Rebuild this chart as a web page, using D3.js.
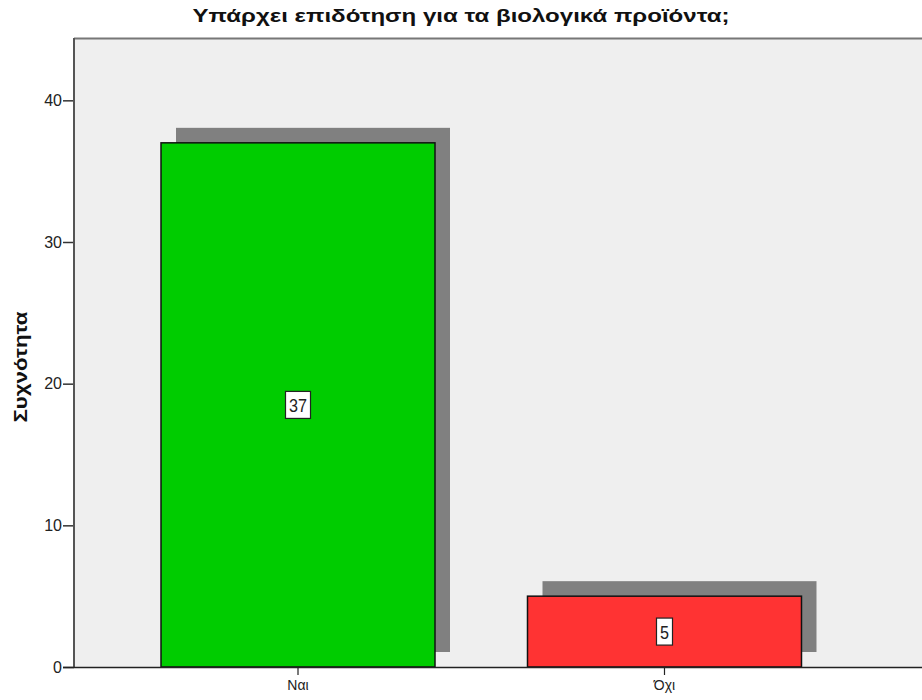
<!DOCTYPE html>
<html><head><meta charset="utf-8">
<script src="https://cdn.jsdelivr.net/npm/d3@7"></script>
<style>body{margin:0;background:#fff;} svg{display:block;font-family:"Liberation Sans",Arial,sans-serif;}</style>
</head><body>
<svg id="c" width="922" height="700"></svg>
<script>
const categories = ["Ναι", "Όχι"];
const values = [37, 5];
const colors = ["#00cc00", "#ff3333"];
const yTicks = [0, 10, 20, 30, 40];
const title = "Υπάρχει επιδότηση για τα βιολογικά προϊόντα;";
const yLabel = "Συχνότητα";

const svg = d3.select("#c");
const L = 74, T = 38, B = 667, R = 922;
const y = d3.scaleLinear().domain([0, 44.4]).range([B, T]);
const x = d3.scaleBand().domain(categories).range([L, 888.5]).paddingInner(0.2524).paddingOuter(0.2374);

svg.append("rect").attr("x", L).attr("y", T).attr("width", R - L + 5).attr("height", B - T)
  .attr("fill", "#efefef");
svg.append("line").attr("x1", L).attr("x2", R).attr("y1", T + 0.5).attr("y2", T + 0.5)
  .attr("stroke", "#777").attr("stroke-width", 2);

const off = 15;
svg.selectAll("rect.sh").data(values).join("rect").attr("class", "sh")
  .attr("x", (d, i) => x(categories[i]) + off)
  .attr("y", d => y(d) - off)
  .attr("width", x.bandwidth())
  .attr("height", d => y(0) - y(d))
  .attr("fill", "#808080");
svg.selectAll("rect.bar").data(values).join("rect").attr("class", "bar")
  .attr("x", (d, i) => x(categories[i]))
  .attr("y", d => y(d))
  .attr("width", x.bandwidth())
  .attr("height", d => y(0) - y(d))
  .attr("fill", (d, i) => colors[i])
  .attr("stroke", "#111").attr("stroke-width", 1.5);

values.forEach((v, i) => {
  const cx = x(categories[i]) + x.bandwidth() / 2;
  const cy = (y(v) + y(0)) / 2;
  const n = String(v).length;
  const tw = n * 9;
  const g = svg.append("g");
  g.append("rect").attr("x", cx - tw / 2 - 3.5).attr("y", cy - 13.5).attr("width", tw + 7).attr("height", 27)
    .attr("fill", "#fff").attr("stroke", "#222").attr("stroke-width", 1.2);
  g.append("text").attr("x", cx).attr("y", cy + 7).attr("text-anchor", "middle")
    .attr("font-size", 19).attr("fill", "#222")
    .attr("textLength", tw).attr("lengthAdjust", "spacingAndGlyphs").text(v);
});

const ya = svg.append("g").attr("transform", `translate(${L},0)`)
  .call(d3.axisLeft(y).tickValues(yTicks).tickSize(11).tickSizeOuter(0).tickPadding(1));
ya.select(".domain").remove();
ya.selectAll(".tick line").attr("stroke", "#333").attr("stroke-width", 1.5);
ya.selectAll(".tick text").attr("font-size", 16).attr("fill", "#222").attr("font-family", "Liberation Sans, Arial");
svg.append("line").attr("x1", L).attr("x2", L).attr("y1", T).attr("y2", B)
  .attr("stroke", "#555").attr("stroke-width", 2);

const xa = svg.append("g").attr("transform", `translate(0,${B})`)
  .call(d3.axisBottom(x).tickSize(8).tickSizeOuter(0).tickPadding(5));
xa.select(".domain").remove();
xa.selectAll(".tick line").attr("stroke", "#222").attr("stroke-width", 1.2);
xa.selectAll(".tick text").attr("font-size", 14).attr("fill", "#222").attr("font-family", "Liberation Sans, Arial");
svg.append("line").attr("x1", L - 11).attr("x2", R).attr("y1", B + 0.5).attr("y2", B + 0.5)
  .attr("stroke", "#222").attr("stroke-width", 1.3);

svg.append("text").attr("x", 461).attr("y", 22).attr("text-anchor", "middle")
  .attr("font-size", 18).attr("font-weight", "bold").attr("fill", "#111")
  .attr("textLength", 537).attr("lengthAdjust", "spacingAndGlyphs").text(title);

svg.append("text").attr("transform", "translate(27,367) rotate(-90)").attr("text-anchor", "middle")
  .attr("font-size", 18).attr("font-weight", "bold").attr("fill", "#111")
  .attr("textLength", 111).attr("lengthAdjust", "spacingAndGlyphs").text(yLabel);
</script>
</body></html>
